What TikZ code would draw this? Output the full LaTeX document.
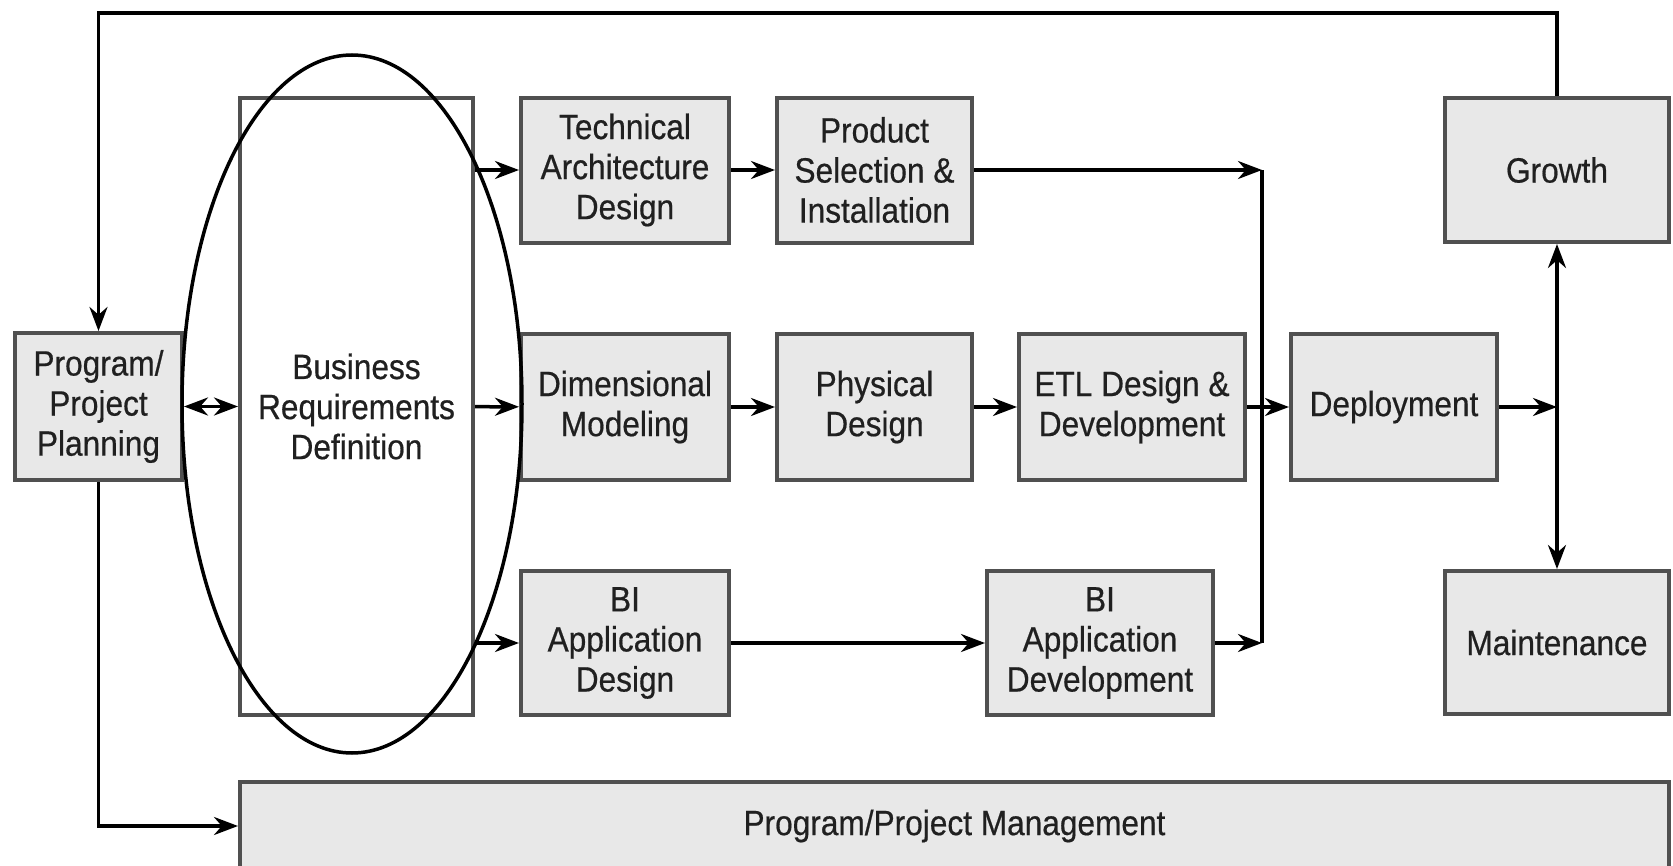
\documentclass[tikz,border=0pt]{standalone}
\usepackage{fontspec}
\setmainfont{Liberation Sans}[FakeStretch=0.9,FakeBold=0.5]
\usetikzlibrary{arrows.meta}
\definecolor{boxfill}{HTML}{E8E8E8}
\definecolor{boxline}{HTML}{505050}
\definecolor{textgray}{HTML}{202020}

\begin{document}
\begin{tikzpicture}
\tikzstyle{stage}=[rectangle,draw=boxline,fill=boxfill,line width=.4mm,inner sep=0pt,align=center,text=textgray,font=\fontsize{10}{11.4}\selectfont]
\tikzstyle{flow}=[-{Stealth[length=2.4mm,width=1.8mm]},line width=.35mm]
\tikzstyle{twoway}=[{Stealth[length=2.4mm,width=1.8mm]}-{Stealth[length=2.4mm,width=1.8mm]},line width=.35mm]
\useasboundingbox (0,0) rectangle (16.73,-8.66);
    % left column
    \node[stage,minimum width=1.67cm,minimum height=1.47cm] (plan) at (0.985,-4.065) {Program/\\Project\\Planning};
    \node[stage,fill=white,minimum width=2.33cm,minimum height=6.17cm] (brd) at (3.565,-4.065) {Business\\Requirements\\Definition};
    % three tracks
    \node[stage,minimum width=2.08cm,minimum height=1.45cm] (tech) at (6.25,-1.70) {Technical\\Architecture\\Design};
    \node[stage,minimum width=1.95cm,minimum height=1.45cm] (prod) at (8.745,-1.70) {Product\\Selection \&\\Installation};
    \node[stage,minimum width=2.08cm,minimum height=1.46cm] (dim) at (6.25,-4.07) {Dimensional\\Modeling};
    \node[stage,minimum width=1.95cm,minimum height=1.46cm] (phys) at (8.745,-4.07) {Physical\\Design};
    \node[stage,minimum width=2.26cm,minimum height=1.46cm] (etl) at (11.32,-4.07) {ETL Design \&\\Development};
    \node[stage,minimum width=2.08cm,minimum height=1.44cm] (biad) at (6.25,-6.43) {BI\\Application\\Design};
    \node[stage,minimum width=2.26cm,minimum height=1.44cm] (bidev) at (11.00,-6.43) {BI\\Application\\Development};
    % right side
    \node[stage,minimum width=2.06cm,minimum height=1.46cm] (depl) at (13.94,-4.07) {Deployment};
    \node[stage,minimum width=2.24cm,minimum height=1.44cm] (grow) at (15.57,-1.70) {Growth};
    \node[stage,minimum width=2.24cm,minimum height=1.43cm] (maint) at (15.57,-6.425) {Maintenance};
    \node[stage,minimum width=14.29cm,minimum height=0.88cm] (ppm) at (9.545,-8.26) {Program/Project Management};
    \coordinate (j1) at (12.62,-1.70);
    \coordinate (j2) at (12.62,-6.43);
    \coordinate (j3) at (15.57,-4.07);
    \coordinate (top) at (8,-0.13);
    % connectors
    \draw[twoway] (plan) to (brd);
    \draw[flow] (brd.east |- tech) to (tech);
    \draw[flow] (brd) to (dim);
    \draw[flow] (brd.east |- biad) to (biad);
    \draw[flow] (tech) to (prod);
    \draw[flow] (dim) to (phys);
    \draw[flow] (phys) to (etl);
    \draw[flow] (etl) to (depl);
    \draw[flow] (biad) to (bidev);
    \draw[flow] (prod) to (j1);
    \draw[flow] (bidev) to (j2);
    \draw[line width=.35mm] (j1) to (j2);
    \draw[flow] (depl) to (j3);
    \draw[twoway] (grow) to (maint);
    \draw[flow] (grow.north) |- (top) -| (plan.north);
    \draw[flow] (plan.south) |- (ppm.west);
    % ring round the requirements step
    \draw[line width=.35mm] (3.52,-4.04) ellipse [x radius=1.70cm, y radius=3.49cm];
\end{tikzpicture}
\end{document}
